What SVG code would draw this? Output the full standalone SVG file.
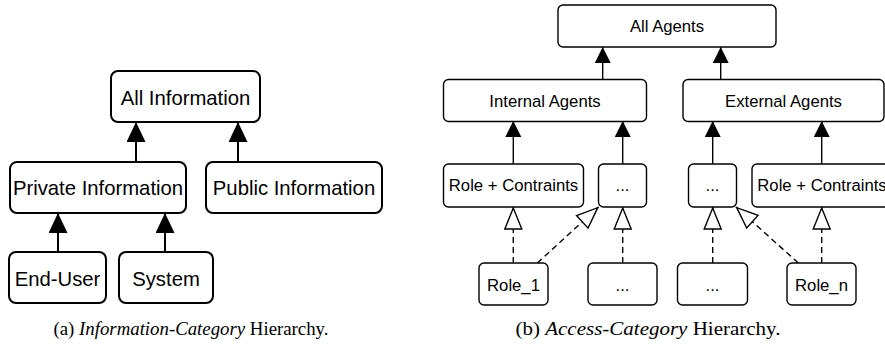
<svg xmlns="http://www.w3.org/2000/svg" width="885" height="345" viewBox="0 0 885 345">
<style>
  .nodeL rect { fill: #fff; stroke: #000; stroke-width: 2; }
  .nodeR rect { fill: #fff; stroke: #000; stroke-width: 1.4; }
  .nodeL text { font-family: "Liberation Sans", Arial, sans-serif; font-size: 20.3px; text-anchor: middle; fill: #000; }
  .nodeR text { font-family: "Liberation Sans", Arial, sans-serif; font-size: 16.7px; text-anchor: middle; fill: #000; }
  .cap { font-family: "Liberation Serif", "Times New Roman", serif; font-size: 19px; text-anchor: middle; fill: #000; }
  .solidL { stroke: #000; stroke-width: 2; fill: none; marker-end: url(#filledL); }
  .solidR { stroke: #000; stroke-width: 1.4; fill: none; marker-end: url(#filledR); }
  .dashed { stroke: #000; stroke-width: 1.4; fill: none; stroke-dasharray: 6 4; marker-end: url(#hollow); }
</style>
<defs>
  <marker id="filledL" markerUnits="userSpaceOnUse" markerWidth="22" markerHeight="22" refX="20" refY="9.5" orient="auto">
    <path d="M0,0 L20,9.5 L0,19 Z" fill="#000"/>
  </marker>
  <marker id="filledR" markerUnits="userSpaceOnUse" markerWidth="18" markerHeight="18" refX="16" refY="8" orient="auto">
    <path d="M0,0 L16,8 L0,16 Z" fill="#000"/>
  </marker>
  <marker id="hollow" markerUnits="userSpaceOnUse" markerWidth="26" markerHeight="22" refX="23" refY="9.5" orient="auto">
    <path d="M1,1 L22,9.5 L1,18 Z" fill="#fff" stroke="#000" stroke-width="1.4"/>
  </marker>
</defs>

<g id="connectors">
  <line class="solidL" x1="136" y1="162" x2="136" y2="122"/>
  <line class="solidL" x1="238" y1="162" x2="238" y2="122"/>
  <line class="solidL" x1="58" y1="252" x2="58" y2="213"/>
  <line class="solidL" x1="165" y1="252" x2="165" y2="213"/>

  <line class="solidR" x1="602.7" y1="79" x2="602.7" y2="47"/>
  <line class="solidR" x1="720.7" y1="79" x2="720.7" y2="47"/>
  <line class="solidR" x1="513.3" y1="164" x2="513.3" y2="121"/>
  <line class="solidR" x1="622.7" y1="164" x2="622.7" y2="121"/>
  <line class="solidR" x1="712.7" y1="164" x2="712.7" y2="121"/>
  <line class="solidR" x1="821.7" y1="164" x2="821.7" y2="121"/>

  <line class="dashed" x1="513.3" y1="263" x2="513.3" y2="207"/>
  <line class="dashed" x1="537.3" y1="263" x2="598.5" y2="207"/>
  <line class="dashed" x1="622.7" y1="263" x2="622.7" y2="207"/>
  <line class="dashed" x1="712.7" y1="263" x2="712.7" y2="207"/>
  <line class="dashed" x1="798.3" y1="263" x2="736" y2="207"/>
  <line class="dashed" x1="821.7" y1="263" x2="821.7" y2="207"/>
</g>

<g id="all-information" class="nodeL"><rect x="111" y="71" width="149" height="51" rx="7"/><text x="185.5" y="105">All Information</text></g>
<g id="private-information" class="nodeL"><rect x="10" y="162" width="176" height="51" rx="7"/><text x="98" y="195">Private Information</text></g>
<g id="public-information" class="nodeL"><rect x="206" y="162" width="176" height="51" rx="7"/><text x="294" y="195">Public Information</text></g>
<g id="end-user" class="nodeL"><rect x="9" y="252" width="97" height="51" rx="7"/><text x="57.5" y="286">End-User</text></g>
<g id="system" class="nodeL"><rect x="119" y="252" width="94" height="51" rx="7"/><text x="166" y="286">System</text></g>

<g id="all-agents" class="nodeR"><rect x="558" y="5" width="218" height="42" rx="5"/><text x="667" y="32">All Agents</text></g>
<g id="internal-agents" class="nodeR"><rect x="443.5" y="79.5" width="203" height="42" rx="5"/><text x="545" y="107">Internal Agents</text></g>
<g id="external-agents" class="nodeR"><rect x="683" y="79.5" width="201" height="42" rx="5"/><text x="783.5" y="107">External Agents</text></g>
<g id="role-constraints-1" class="nodeR"><rect x="443.5" y="164" width="140" height="43" rx="5"/><text x="513.5" y="191">Role + Contraints</text></g>
<g id="dots-int" class="nodeR"><rect x="598.5" y="164" width="48" height="43" rx="5"/><text x="622.5" y="191">...</text></g>
<g id="dots-ext" class="nodeR"><rect x="688.5" y="164" width="48" height="43" rx="5"/><text x="712.5" y="191">...</text></g>
<g id="role-constraints-2" class="nodeR"><rect x="752" y="164" width="140" height="43" rx="5"/><text x="822" y="191">Role + Contraints</text></g>
<g id="role-1" class="nodeR"><rect x="479" y="263" width="69" height="42" rx="5"/><text x="513.5" y="291">Role_1</text></g>
<g id="dots-b1" class="nodeR"><rect x="588" y="263" width="69" height="42" rx="5"/><text x="622.5" y="291">...</text></g>
<g id="dots-b2" class="nodeR"><rect x="677.5" y="263" width="70" height="42" rx="5"/><text x="712.5" y="291">...</text></g>
<g id="role-n" class="nodeR"><rect x="787" y="263" width="69" height="42" rx="5"/><text x="821.5" y="291">Role_n</text></g>

<text class="cap" x="191" y="335" textLength="275" lengthAdjust="spacingAndGlyphs">(a)  <tspan font-style="italic">Information-Category</tspan> Hierarchy.</text>
<text class="cap" x="648" y="335" textLength="265" lengthAdjust="spacingAndGlyphs">(b)  <tspan font-style="italic">Access-Category</tspan> Hierarchy.</text>
</svg>
